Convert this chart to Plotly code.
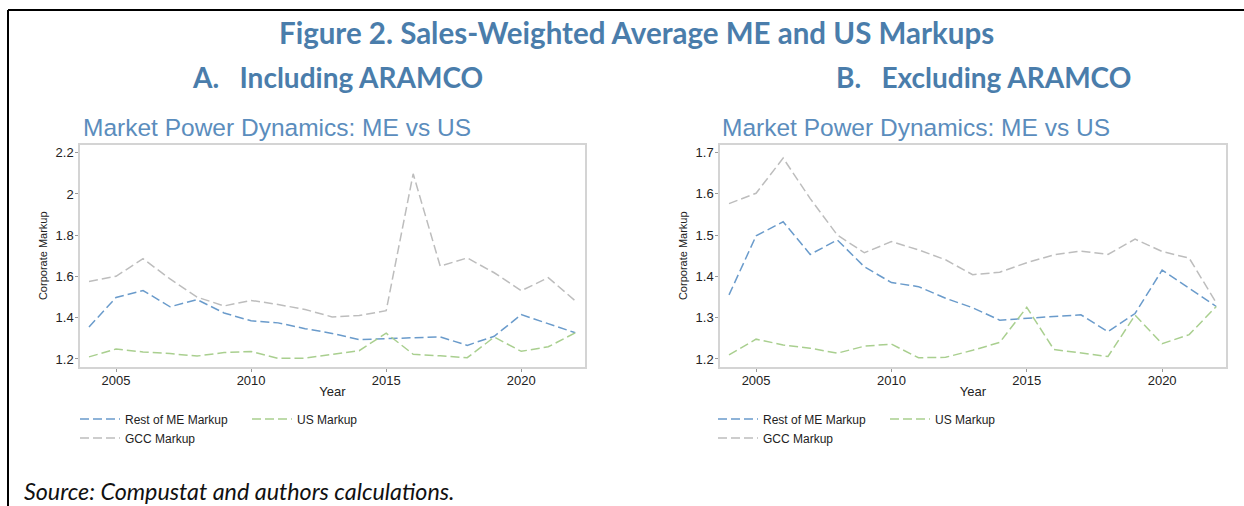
import plotly.graph_objects as go

years = list(range(2004, 2023))
rest_me = [1.355, 1.498, 1.532, 1.453, 1.488, 1.423, 1.385, 1.375, 1.347, 1.324,
           1.294, 1.298, 1.303, 1.307, 1.266, 1.310, 1.415, 1.372, 1.327]
us = [1.210, 1.248, 1.234, 1.226, 1.214, 1.231, 1.236, 1.203, 1.204, 1.221,
      1.240, 1.325, 1.223, 1.215, 1.206, 1.306, 1.237, 1.259, 1.327]
gcc_incl = [1.576, 1.601, 1.686, 1.588, 1.500, 1.457, 1.484, 1.464, 1.440, 1.404,
            1.411, 1.434, 2.098, 1.650, 1.690, 1.618, 1.531, 1.594, 1.482]
gcc_excl = [1.576, 1.601, 1.686, 1.588, 1.500, 1.457, 1.484, 1.464, 1.440, 1.404,
            1.410, 1.433, 1.452, 1.461, 1.453, 1.490, 1.460, 1.444, 1.336]

x_ticks = [2005, 2010, 2015, 2020]
y_ticks_a = [1.2, 1.4, 1.6, 1.8, 2.0, 2.2]
y_ticks_b = [1.2, 1.3, 1.4, 1.5, 1.6, 1.7]

C_BLUE = "#6a9bcb"
C_GREEN = "#a9cf8f"
C_GRAY = "#bdbdbd"
DASH = "9px,4px"
W = 1244
H = 506

fig = go.Figure()

def add_panel(xa, ya, gcc, leg_row1, leg_row2):
    fig.add_trace(go.Scatter(x=years, y=rest_me, mode="lines", name="Rest of ME Markup",
                             line=dict(color=C_BLUE, width=1.5, dash=DASH),
                             xaxis=xa, yaxis=ya, legend=leg_row1))
    fig.add_trace(go.Scatter(x=years, y=us, mode="lines", name="US Markup",
                             line=dict(color=C_GREEN, width=1.5, dash=DASH),
                             xaxis=xa, yaxis=ya, legend=leg_row1))
    fig.add_trace(go.Scatter(x=years, y=gcc, mode="lines", name="GCC Markup",
                             line=dict(color=C_GRAY, width=1.5, dash=DASH),
                             xaxis=xa, yaxis=ya, legend=leg_row2))

add_panel("x", "y", gcc_incl, "legend", "legend2")
add_panel("x2", "y2", gcc_excl, "legend3", "legend4")

tickfont = dict(family="Liberation Sans, Arial", size=13, color="#222222")
ydom = [1 - 367 / H, 1 - 144.5 / H]

def xaxis(dom, anchor):
    return dict(domain=dom, anchor=anchor, range=[2003.667, 2022.36], tickvals=x_ticks,
                showgrid=False, zeroline=False, showline=True, linecolor="#d4d4d4",
                linewidth=1.5, mirror=True, ticks="outside", ticklen=3, tickcolor="#9a9a9a",
                tickfont=tickfont, ticklabelstandoff=-2,
                title=dict(text="Year", font=tickfont, standoff=0))

def yaxis(rng, tv, anchor):
    return dict(domain=ydom, anchor=anchor, range=rng, tickvals=tv,
                showgrid=False, zeroline=False, showline=True, linecolor="#d4d4d4",
                linewidth=1.5, mirror=True, ticks="outside", ticklen=3, tickcolor="#9a9a9a",
                tickfont=tickfont, ticklabelstandoff=-1,
                title=dict(text="Corporate Markup", font=dict(family="Liberation Sans, Arial",
                                                              size=11, color="#222222"),
                           standoff=6))

legfont = dict(family="Liberation Sans, Arial", size=12, color="#222222")

def leg(xp, yp):
    return dict(orientation="h", x=xp / W, y=1 - yp / H, xanchor="left", yanchor="middle",
                font=legfont, bgcolor="rgba(0,0,0,0)", entrywidth=117,
                itemwidth=40, tracegroupgap=0)

fig.update_layout(
    width=W, height=H,
    margin=dict(l=0, r=0, t=0, b=0),
    paper_bgcolor="white", plot_bgcolor="white",
    xaxis=xaxis([80 / W, 585 / W], "y"),
    yaxis=yaxis([1.161, 2.24], y_ticks_a, "x"),
    xaxis2=xaxis([720 / W, 1226 / W], "y2"),
    yaxis2=yaxis([1.1806, 1.719], y_ticks_b, "x2"),
    legend=leg(75, 419),
    legend2=leg(75, 438),
    legend3=leg(713, 419),
    legend4=leg(713, 438),
    showlegend=True,
)

title_font = dict(family="Lato", size=29.5, color="#4a7dab")
sub_font = dict(family="Lato", size=28, color="#4a7dab")
chart_title_font = dict(family="Liberation Sans, Arial", size=24.5, color="#5b8dbd")

annotations = [
    dict(text="<b>Figure 2. Sales-Weighted Average ME and US Markups</b>", x=636 / W, y=1 - 33 / H,
         font=title_font, xanchor="center", yanchor="middle"),
    dict(text="<b>A.   Including ARAMCO</b>", x=337 / W, y=1 - 77 / H,
         font=sub_font, xanchor="center", yanchor="middle"),
    dict(text="<b>B.   Excluding ARAMCO</b>", x=983 / W, y=1 - 77 / H,
         font=sub_font, xanchor="center", yanchor="middle"),
    dict(text="Market Power Dynamics: ME vs US", x=81 / W, y=1 - 128 / H,
         font=chart_title_font, xanchor="left", yanchor="middle"),
    dict(text="Market Power Dynamics: ME vs US", x=720 / W, y=1 - 128 / H,
         font=chart_title_font, xanchor="left", yanchor="middle"),
    dict(text="<i>Source: Compustat and authors calculations.</i>", x=22 / W, y=1 - 491 / H,
         font=dict(family="Lato", size=23.3, color="#111111"), xanchor="left", yanchor="middle"),
]
for a in annotations:
    a.update(xref="paper", yref="paper", showarrow=False)
fig.update_layout(annotations=annotations)

fig.add_shape(type="line", xref="paper", yref="paper", x0=8 / W, x1=1, y0=1 - 10 / H, y1=1 - 10 / H,
              line=dict(color="black", width=2))
fig.add_shape(type="line", xref="paper", yref="paper", x0=8 / W, x1=8 / W, y0=0, y1=1 - 10 / H,
              line=dict(color="black", width=2))

fig.write_html("out.html", config={"displayModeBar": False},
               post_script="document.body.style.margin='0px';document.body.style.overflow='hidden';")
